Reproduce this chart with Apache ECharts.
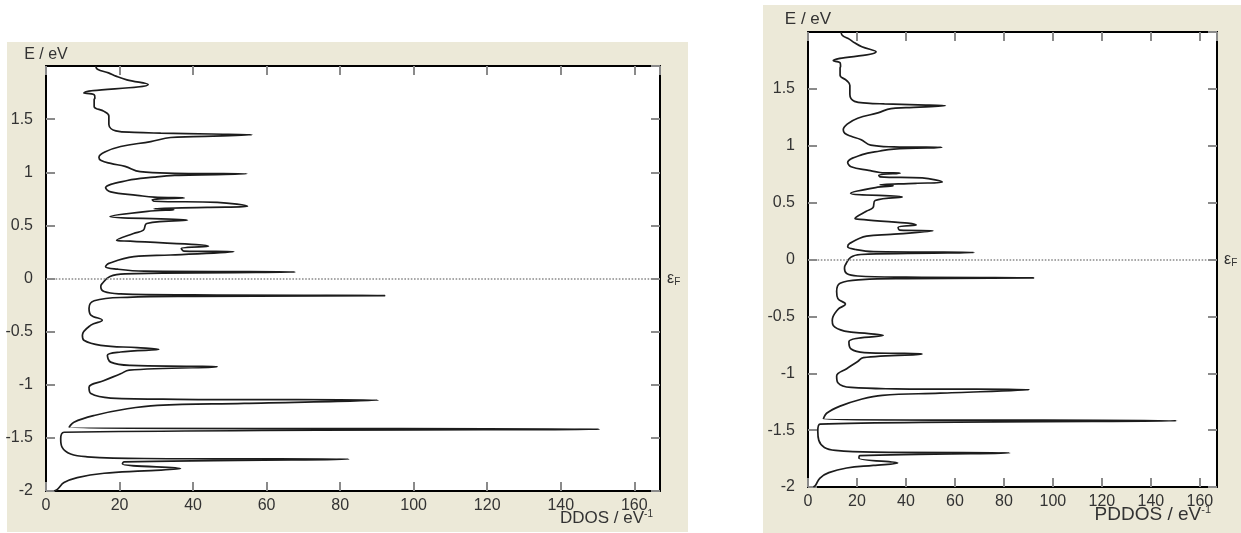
<!DOCTYPE html>
<html><head><meta charset="utf-8">
<script src="https://cdn.jsdelivr.net/npm/echarts@6/dist/echarts.min.js"></script>
<style>html,body{margin:0;padding:0;background:#fff}#c{width:1241px;height:533px}</style>
</head><body><div id="c"></div>
<script>
// Energy (eV) along the curve, top to bottom
const energy = [2.0, 1.97, 1.935, 1.905, 1.87, 1.826, 1.747, 1.73, 1.70, 1.684, 1.62, 1.573, 1.53, 1.45, 1.39, 1.375, 1.368, 1.36, 1.352,
  1.335, 1.327, 1.289, 1.242, 1.19, 1.14, 1.11, 1.083, 1.055, 1.005, 0.99, 0.985, 0.97, 0.954, 0.922, 0.853, 0.815, 0.783, 0.765, 0.758,
  0.742, 0.727, 0.717, 0.681, 0.67, 0.657, 0.648, 0.632, 0.583, 0.55, 0.518, 0.455, 0.424, 0.36, 0.351, 0.303, 0.283, 0.258, 0.252,
  0.221, 0.205, 0.142, 0.111, 0.088, 0.069, 0.062, 0.044, 0.019, -0.05, -0.076, -0.123, -0.145, -0.155, -0.161, -0.168, -0.177, -0.209,
  -0.281, -0.344, -0.392, -0.439, -0.534, -0.581, -0.629, -0.651, -0.667, -0.692, -0.723, -0.787, -0.818, -0.826, -0.83, -0.862, -0.897,
  -0.96, -1.024, -1.083, -1.125, -1.137, -1.145, -1.175, -1.194, -1.226, -1.289, -1.352, -1.40, -1.418, -1.447, -1.51, -1.59, -1.652,
  -1.678, -1.694, -1.70, -1.725, -1.747, -1.789, -1.81, -1.833, -1.874, -1.921, -1.984, -2.0];
// DDOS (1/eV) at those energies
const ddos = [13.5, 14.0, 17.0, 19.0, 22.0, 27.8, 10.3, 13.1, 13.3, 13.1, 13.1, 15.8, 17.1, 17.1, 19.0, 24.0, 31.2, 45.0, 56.1,
  40.0, 33.9, 28.5, 20.3, 16.0, 14.4, 15.0, 17.6, 21.5, 25.6, 35.0, 54.6, 35.0, 29.4, 22.1, 16.2, 17.6, 24.8, 29.4, 37.6,
  28.9, 29.4, 46.6, 54.8, 43.9, 29.4, 34.8, 27.6, 17.4, 38.5, 27.4, 26.5, 23.8, 19.2, 22.9, 44.2, 36.8, 37.5, 51.1,
  33.9, 23.9, 17.1, 16.2, 19.4, 26.7, 67.8, 21.5, 17.4, 15.2, 14.9, 15.8, 20.3, 40.0, 92.2, 40.0, 22.1, 13.1,
  11.7, 12.2, 15.3, 12.2, 9.9, 10.3, 14.9, 24.8, 30.7, 20.3, 16.7, 17.6, 23.0, 39.4, 46.6, 22.6, 20.3,
  15.8, 11.7, 12.2, 17.6, 35.7, 90.3, 53.9, 30.3, 22.1, 13.1, 7.6, 6.3, 150.5, 4.9, 4.0, 4.4, 6.7,
  11.2, 26.7, 82.4, 21.2, 20.8, 36.6, 26.7, 15.8, 8.5, 4.9, 3.1, 2.2];
// PDDOS (same profile)
const pddos = ddos.slice();

const xMin = 0, xMax = 167, xStep = 20;
const yMin = -2, yMax = 2, yStep = 0.5;
const font = 'Liberation Sans, Arial, sans-serif';

function xAx(g, pos) {
  return {
    type: 'value', gridIndex: g, position: pos, min: xMin, max: xMax, interval: xStep,
    axisLine: { show: true, onZero: false, lineStyle: { color: '#000', width: 2 } },
    axisTick: { show: true, inside: true, length: 9, lineStyle: { color: '#8a8a8a', width: 2 } },
    axisLabel: { show: pos === 'bottom', showMaxLabel: false, color: '#333', fontSize: 16, fontFamily: font, margin: 7 },
    splitLine: { show: false }
  };
}
function yAx(g, pos, fs, gap) {
  return {
    type: 'value', gridIndex: g, position: pos, min: yMin, max: yMax, interval: yStep,
    name: pos === 'left' ? 'E / eV' : '', nameLocation: 'end', nameGap: gap,
    nameTextStyle: { color: '#333', fontSize: fs, fontFamily: font },
    axisLine: { show: true, onZero: false, lineStyle: { color: '#000', width: 2 } },
    axisTick: { show: true, inside: true, length: 9, lineStyle: { color: '#8a8a8a', width: 2 } },
    axisLabel: { show: pos === 'left', showMaxLabel: false, color: '#333', fontSize: 16, fontFamily: font, margin: 13 },
    splitLine: { show: false }
  };
}
function curve(g, vals) {
  return {
    type: 'line', xAxisIndex: g * 2, yAxisIndex: g * 2, data: energy.map((e, i) => [vals[i], e]),
    showSymbol: false, symbol: 'none', smooth: 0.4,
    lineStyle: { color: '#1c1c1c', width: 1.7 }, z: 3,
    markLine: {
      silent: true, symbol: 'none', animation: false,
      lineStyle: { color: '#8a8a8a', type: 'dotted', width: 1.6 },
      label: { show: true, position: 'end', distance: 7, formatter: '{e|ε}{f|F}',
        rich: { e: { fontSize: 16, color: '#333', fontFamily: font }, f: { fontSize: 10, color: '#333', fontFamily: font, padding: [8, 0, 0, 0] } } },
      data: [{ yAxis: 0 }]
    }
  };
}

const chart = echarts.init(document.getElementById('c'));
chart.setOption({
  backgroundColor: '#ffffff',
  animation: false,
  graphic: [
    { type: 'rect', z: -10, shape: { x: 7, y: 42, width: 681, height: 490 }, style: { fill: '#ECE9D8' } },
    { type: 'rect', z: -10, shape: { x: 763, y: 5, width: 478, height: 528 }, style: { fill: '#ECE9D8' } },
    { type: 'text', z: 10, right: 1241 - 653, top: 509, style: { text: '{a|DDOS / eV}{b|-1}', rich: {
        a: { fontSize: 17, fill: '#333', fontFamily: font }, b: { fontSize: 10, fill: '#333', fontFamily: font, padding: [0, 0, 9, 0] } } } },
    { type: 'text', z: 10, right: 1241 - 1211, top: 504, style: { text: '{a|PDDOS / eV}{b|-1}', rich: {
        a: { fontSize: 19, fill: '#333', fontFamily: font }, b: { fontSize: 11, fill: '#333', fontFamily: font, padding: [0, 0, 10, 0] } } } }
  ],
  grid: [
    { left: 46, top: 66, width: 614, height: 425, show: true, backgroundColor: '#fff', borderWidth: 0 },
    { left: 808, top: 32, width: 409, height: 455, show: true, backgroundColor: '#fff', borderWidth: 0 }
  ],
  xAxis: [xAx(0, 'bottom'), xAx(0, 'top'), xAx(1, 'bottom'), xAx(1, 'top')],
  yAxis: [yAx(0, 'left', 16, 3), yAx(0, 'right', 16, 3), yAx(1, 'left', 17, 4), yAx(1, 'right', 17, 4)],
  series: [curve(0, ddos), curve(1, pddos)]
});
</script></body></html>
